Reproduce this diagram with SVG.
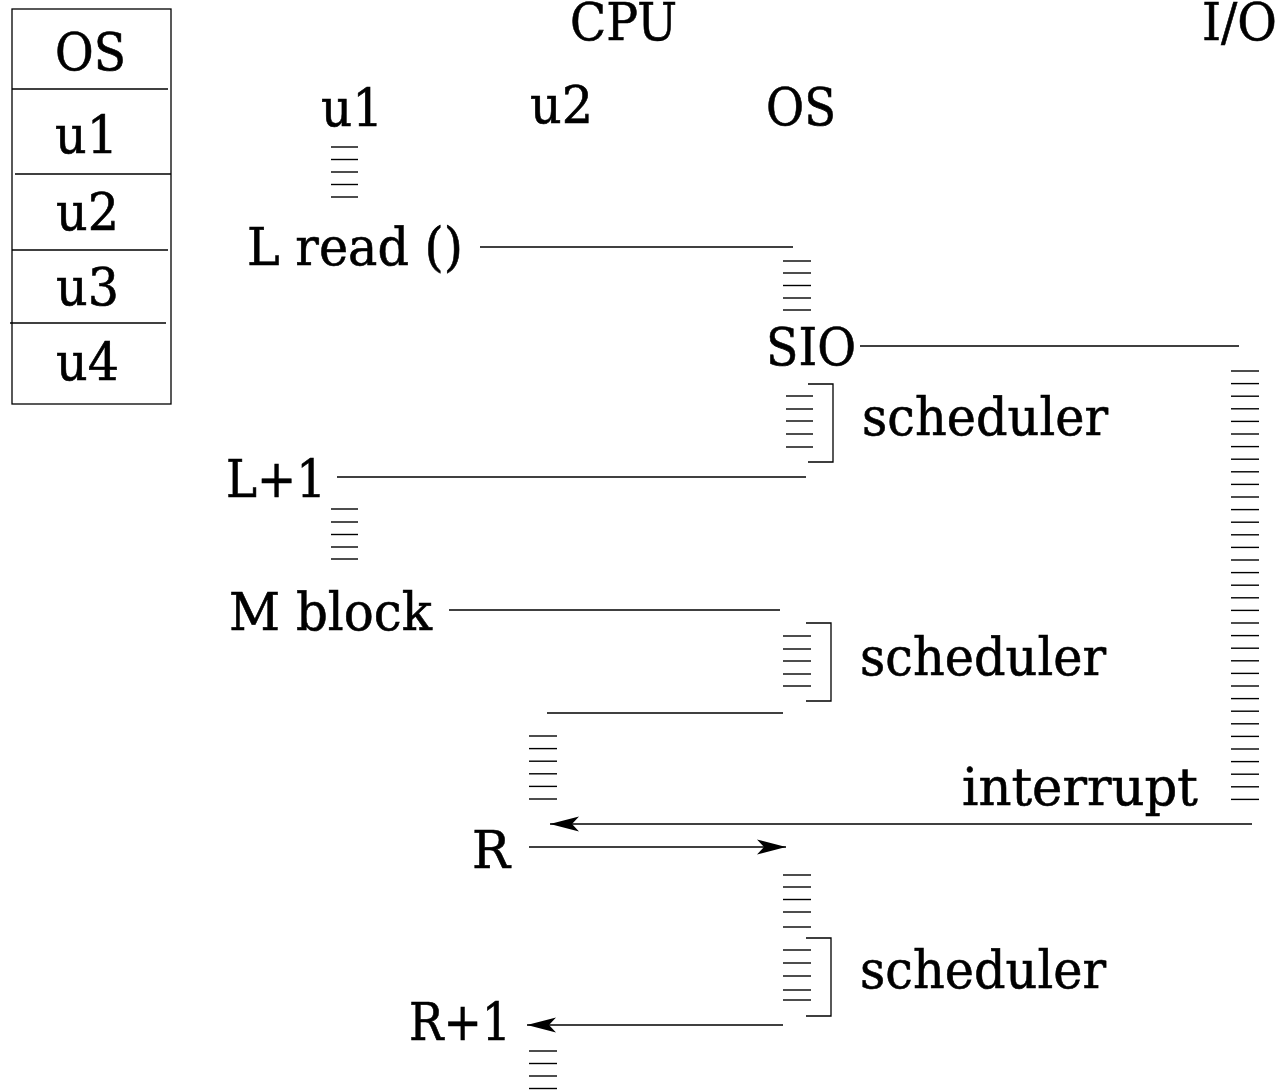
<svg xmlns="http://www.w3.org/2000/svg" width="1279" height="1090" viewBox="0 0 1279 1090">
  <style>
    text { font-family: "DejaVu Serif", "Liberation Serif", serif; font-size: 52px; fill: #000; stroke: #000; stroke-width: 0.6; }
    .ln { stroke: #000; stroke-width: 1.3; fill: none; }
    .h { stroke: #000; stroke-width: 1.4; }
    .br { stroke: #000; stroke-width: 1.3; fill: none; }
  </style>
  <defs>
    <marker id="head" markerUnits="userSpaceOnUse" markerWidth="32" markerHeight="16" refX="29" refY="8" orient="auto" overflow="visible">
      <path d="M0 0.5 L29 8 L0 15.5 L7 8 Z" fill="#000"/>
    </marker>
  </defs>

  <!-- memory layout table -->
  <g id="memory">
    <rect x="12" y="9" width="159" height="395" class="ln"/>
    <line class="ln" x1="12" y1="89" x2="168" y2="89"/>
    <line class="ln" x1="15" y1="174" x2="171" y2="174"/>
    <line class="ln" x1="12" y1="250" x2="168" y2="250"/>
    <line class="ln" x1="10" y1="323" x2="166" y2="323"/>
    <text x="55" y="70" textLength="71" lengthAdjust="spacingAndGlyphs">OS</text>
    <text x="55" y="153" textLength="63" lengthAdjust="spacingAndGlyphs">u1</text>
    <text x="56" y="230" textLength="63" lengthAdjust="spacingAndGlyphs">u2</text>
    <text x="56" y="305" textLength="63" lengthAdjust="spacingAndGlyphs">u3</text>
    <text x="56" y="380" textLength="63" lengthAdjust="spacingAndGlyphs">u4</text>
  </g>

  <!-- column headings -->
  <g id="headings">
    <text x="570" y="40" textLength="107" lengthAdjust="spacingAndGlyphs">CPU</text>
    <text x="1202" y="40" textLength="75" lengthAdjust="spacingAndGlyphs">I/O</text>
    <text x="321" y="126" textLength="62" lengthAdjust="spacingAndGlyphs">u1</text>
    <text x="530" y="123" textLength="63" lengthAdjust="spacingAndGlyphs">u2</text>
    <text x="766" y="125" textLength="70" lengthAdjust="spacingAndGlyphs">OS</text>
  </g>

  <!-- u1 running -->
  <g id="u1-run1" class="h">
    <line x1="331" y1="147" x2="358" y2="147"/>
    <line x1="331" y1="159.5" x2="358" y2="159.5"/>
    <line x1="331" y1="172" x2="358" y2="172"/>
    <line x1="331" y1="184.5" x2="358" y2="184.5"/>
    <line x1="331" y1="197" x2="358" y2="197"/>
  </g>

  <g id="read">
    <text x="247" y="265" textLength="216" lengthAdjust="spacingAndGlyphs">L read ()</text>
  </g>

  <!-- OS handles the system call -->
  <g id="os-syscall" class="h">
    <line x1="783" y1="261" x2="811" y2="261"/>
    <line x1="783" y1="273" x2="811" y2="273"/>
    <line x1="783" y1="285.5" x2="811" y2="285.5"/>
    <line x1="783" y1="298" x2="811" y2="298"/>
    <line x1="783" y1="310" x2="811" y2="310"/>
  </g>

  <g id="sio">
    <text x="766" y="365" textLength="90" lengthAdjust="spacingAndGlyphs">SIO</text>
  </g>

  <!-- first scheduler pass -->
  <g id="scheduler1">
    <g class="h">
      <line x1="786" y1="396" x2="813" y2="396"/>
      <line x1="786" y1="409" x2="813" y2="409"/>
      <line x1="786" y1="421" x2="813" y2="421"/>
      <line x1="786" y1="434" x2="813" y2="434"/>
      <line x1="786" y1="447" x2="813" y2="447"/>
    </g>
    <path class="br" d="M808 384 H833 V462 H808"/>
    <text x="862" y="435" textLength="246" lengthAdjust="spacingAndGlyphs">scheduler</text>
  </g>

  <!-- I/O device busy -->
  <g id="io-busy" class="h">
    <line x1="1231" y1="371.0" x2="1259" y2="371.0"/>
    <line x1="1231" y1="383.6" x2="1259" y2="383.6"/>
    <line x1="1231" y1="396.2" x2="1259" y2="396.2"/>
    <line x1="1231" y1="408.8" x2="1259" y2="408.8"/>
    <line x1="1231" y1="421.4" x2="1259" y2="421.4"/>
    <line x1="1231" y1="434.0" x2="1259" y2="434.0"/>
    <line x1="1231" y1="446.6" x2="1259" y2="446.6"/>
    <line x1="1231" y1="459.2" x2="1259" y2="459.2"/>
    <line x1="1231" y1="471.8" x2="1259" y2="471.8"/>
    <line x1="1231" y1="484.4" x2="1259" y2="484.4"/>
    <line x1="1231" y1="497.0" x2="1259" y2="497.0"/>
    <line x1="1231" y1="509.6" x2="1259" y2="509.6"/>
    <line x1="1231" y1="522.2" x2="1259" y2="522.2"/>
    <line x1="1231" y1="534.8" x2="1259" y2="534.8"/>
    <line x1="1231" y1="547.4" x2="1259" y2="547.4"/>
    <line x1="1231" y1="560.0" x2="1259" y2="560.0"/>
    <line x1="1231" y1="572.6" x2="1259" y2="572.6"/>
    <line x1="1231" y1="585.2" x2="1259" y2="585.2"/>
    <line x1="1231" y1="597.8" x2="1259" y2="597.8"/>
    <line x1="1231" y1="610.4" x2="1259" y2="610.4"/>
    <line x1="1231" y1="623.0" x2="1259" y2="623.0"/>
    <line x1="1231" y1="635.6" x2="1259" y2="635.6"/>
    <line x1="1231" y1="648.2" x2="1259" y2="648.2"/>
    <line x1="1231" y1="660.8" x2="1259" y2="660.8"/>
    <line x1="1231" y1="673.4" x2="1259" y2="673.4"/>
    <line x1="1231" y1="686.0" x2="1259" y2="686.0"/>
    <line x1="1231" y1="698.6" x2="1259" y2="698.6"/>
    <line x1="1231" y1="711.2" x2="1259" y2="711.2"/>
    <line x1="1231" y1="723.8" x2="1259" y2="723.8"/>
    <line x1="1231" y1="736.4" x2="1259" y2="736.4"/>
    <line x1="1231" y1="749.0" x2="1259" y2="749.0"/>
    <line x1="1231" y1="761.6" x2="1259" y2="761.6"/>
    <line x1="1231" y1="774.2" x2="1259" y2="774.2"/>
    <line x1="1231" y1="786.8" x2="1259" y2="786.8"/>
    <line x1="1231" y1="799.4" x2="1259" y2="799.4"/>
  </g>

  <g id="l-plus-1">
    <text x="226" y="497" textLength="100" lengthAdjust="spacingAndGlyphs">L+1</text>
  </g>

  <!-- u1 running again -->
  <g id="u1-run2" class="h">
    <line x1="331" y1="509" x2="358" y2="509"/>
    <line x1="331" y1="522" x2="358" y2="522"/>
    <line x1="331" y1="534.5" x2="358" y2="534.5"/>
    <line x1="331" y1="547" x2="358" y2="547"/>
    <line x1="331" y1="559" x2="358" y2="559"/>
  </g>

  <g id="m-block">
    <text x="229" y="630" textLength="203" lengthAdjust="spacingAndGlyphs">M block</text>
  </g>

  <!-- second scheduler pass -->
  <g id="scheduler2">
    <g class="h">
      <line x1="783" y1="636" x2="811" y2="636"/>
      <line x1="783" y1="649" x2="811" y2="649"/>
      <line x1="783" y1="661" x2="811" y2="661"/>
      <line x1="783" y1="674" x2="811" y2="674"/>
      <line x1="783" y1="686" x2="811" y2="686"/>
    </g>
    <path class="br" d="M806 623 H831 V701 H806"/>
    <text x="860" y="675" textLength="246" lengthAdjust="spacingAndGlyphs">scheduler</text>
  </g>

  <!-- u2 running -->
  <g id="u2-run1" class="h">
    <line x1="529" y1="736" x2="557" y2="736"/>
    <line x1="529" y1="748.6" x2="557" y2="748.6"/>
    <line x1="529" y1="761.2" x2="557" y2="761.2"/>
    <line x1="529" y1="773.8" x2="557" y2="773.8"/>
    <line x1="529" y1="786.4" x2="557" y2="786.4"/>
    <line x1="529" y1="799" x2="557" y2="799"/>
  </g>

  <g id="interrupt">
    <text x="962" y="805" textLength="236" lengthAdjust="spacingAndGlyphs">interrupt</text>
  </g>

  <g id="r">
    <text x="472" y="868" textLength="38" lengthAdjust="spacingAndGlyphs">R</text>
  </g>

  <!-- OS handles the interrupt, then the scheduler -->
  <g id="scheduler3">
    <g class="h">
      <line x1="783" y1="875" x2="811" y2="875"/>
      <line x1="783" y1="887" x2="811" y2="887"/>
      <line x1="783" y1="899.5" x2="811" y2="899.5"/>
      <line x1="783" y1="912" x2="811" y2="912"/>
      <line x1="783" y1="927" x2="811" y2="927"/>
      <line x1="783" y1="950" x2="811" y2="950"/>
      <line x1="783" y1="963" x2="811" y2="963"/>
      <line x1="783" y1="976" x2="811" y2="976"/>
      <line x1="783" y1="990" x2="811" y2="990"/>
      <line x1="783" y1="1000" x2="811" y2="1000"/>
    </g>
    <path class="br" d="M806 938 H831 V1016 H806"/>
    <text x="860" y="988" textLength="246" lengthAdjust="spacingAndGlyphs">scheduler</text>
  </g>

  <g id="r-plus-1">
    <text x="409" y="1040" textLength="102" lengthAdjust="spacingAndGlyphs">R+1</text>
  </g>

  <!-- u2 resumes -->
  <g id="u2-run2" class="h">
    <line x1="529" y1="1051" x2="557" y2="1051"/>
    <line x1="529" y1="1063.5" x2="557" y2="1063.5"/>
    <line x1="529" y1="1076" x2="557" y2="1076"/>
    <line x1="529" y1="1088.5" x2="557" y2="1088.5"/>
  </g>

  <!-- control transfers -->
  <g id="connectors">
    <line class="ln" x1="480" y1="247" x2="793" y2="247"/>
    <line class="ln" x1="860" y1="346" x2="1239" y2="346"/>
    <line class="ln" x1="337" y1="477" x2="806" y2="477"/>
    <line class="ln" x1="449" y1="610" x2="780" y2="610"/>
    <line class="ln" x1="547" y1="713" x2="783" y2="713"/>
    <line class="ln" x1="1252" y1="824" x2="550" y2="824" marker-end="url(#head)"/>
    <line class="ln" x1="529" y1="847" x2="786" y2="847" marker-end="url(#head)"/>
    <line class="ln" x1="783" y1="1025" x2="527" y2="1025" marker-end="url(#head)"/>
  </g>
</svg>
